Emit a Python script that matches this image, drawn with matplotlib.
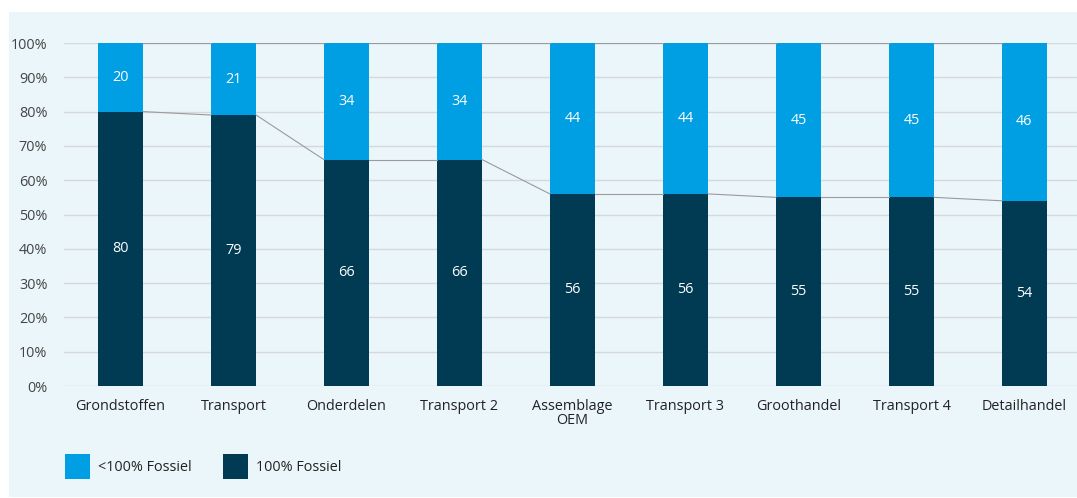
import matplotlib.pyplot as plt
import matplotlib.patches as mpatches
import numpy as np

plt.rcParams['font.family'] = ['Open Sans', 'DejaVu Sans']

categories = ['Grondstoffen', 'Transport', 'Onderdelen', 'Transport 2', 'Assemblage\nOEM',
              'Transport 3', 'Groothandel', 'Transport 4', 'Detailhandel']
fossiel_100 = [80, 79, 66, 66, 56, 56, 55, 55, 54]
fossiel_lt100 = [20, 21, 34, 34, 44, 44, 45, 45, 46]

bg = '#ebf6fb'
dark = '#003a53'
light = '#009fe3'
fs = 10.4

fig = plt.figure(figsize=(10.77, 4.98), dpi=100)
fig.patch.set_facecolor('white')
fig.patches.append(mpatches.Rectangle((9 / 1077, 1 - 497 / 498), 1 - 9 / 1077, (497 - 12) / 498,
                                      transform=fig.transFigure, facecolor=bg, edgecolor='none',
                                      zorder=-10))

ax = fig.add_axes([64 / 1077, 1 - 386 / 498, 1017 / 1077, (386 - 43) / 498])
ax.set_facecolor('none')

x = np.arange(len(categories))
w = 0.4
ax.bar(x, fossiel_100, w, color=dark, zorder=3)
ax.bar(x, fossiel_lt100, w, bottom=fossiel_100, color=light, zorder=3)

# series lines between bars
for i in range(len(x) - 1):
    ax.plot([x[i] + w / 2, x[i + 1] - w / 2], [fossiel_100[i], fossiel_100[i + 1]],
            color='#9a9a9a', lw=0.8, zorder=4)
    ax.plot([x[i] + w / 2, x[i + 1] - w / 2], [100, 100], color='#9a9a9a', lw=0.8, zorder=4)

for i in range(len(x)):
    ax.text(x[i], fossiel_100[i] / 2, str(fossiel_100[i]), ha='center', va='center',
            color='white', fontsize=fs, zorder=5)
    ax.text(x[i], fossiel_100[i] + fossiel_lt100[i] / 2, str(fossiel_lt100[i]), ha='center',
            va='center', color='white', fontsize=fs, zorder=5)

ax.set_xlim(-0.5, len(x) - 0.5)
ax.set_ylim(0, 100)
ax.set_yticks(np.arange(0, 101, 10))
ax.set_yticklabels([f'{v}%' for v in range(0, 101, 10)])
ax.yaxis.grid(True, color='#d6d9db', lw=1, zorder=0)
ax.set_axisbelow(True)
ax.set_xticks(x)
ax.set_xticklabels(categories, linespacing=1.0)
ax.tick_params(axis='both', length=0, labelsize=fs, colors='#222222')
ax.tick_params(axis='y', labelcolor='#444444', pad=12)
ax.tick_params(axis='x', pad=9)
for s in ax.spines.values():
    s.set_visible(False)

# legend
lx = [65, 223]
labels = ['<100% Fossiel', '100% Fossiel']
cols = [light, dark]
for px, lab, c in zip(lx, labels, cols):
    fig.patches.append(mpatches.Rectangle((px / 1077, 1 - 479 / 498), 25 / 1077, 25 / 498,
                                          transform=fig.transFigure, facecolor=c, edgecolor='none'))
    fig.text((px + 33) / 1077, 1 - 467 / 498, lab, ha='left', va='center', fontsize=fs,
             color='#222222')

fig.savefig('out.png', dpi=100, facecolor='white')
